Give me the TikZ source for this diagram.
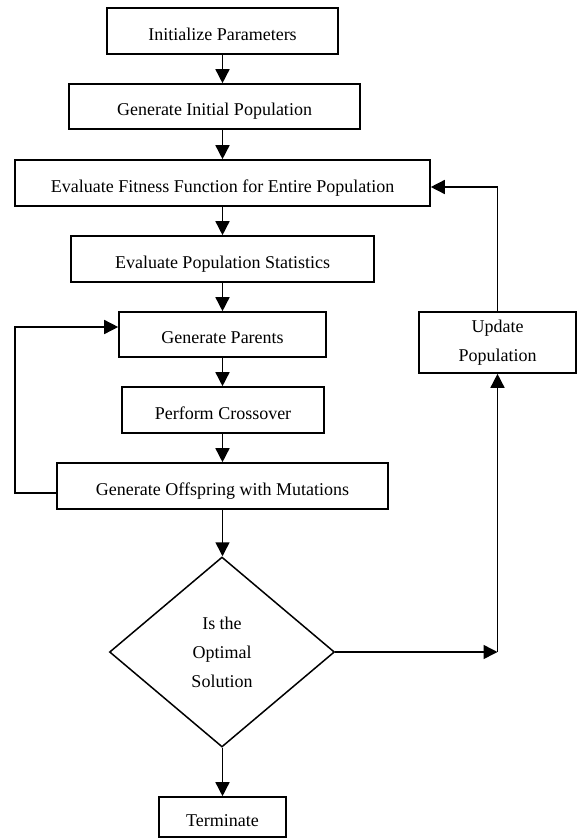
\documentclass[tikz,border=0pt]{standalone}
\usepackage{fontspec}
\setmainfont{Liberation Serif}
\usetikzlibrary{arrows.meta, shapes.geometric}

\tikzset{
  stepbox/.style={draw, line width=1.6pt, text height=22pt, text depth=4pt},
  flow/.style={-{Triangle[length=14pt,width=14pt]}, line width=1.5pt}
}

\begin{document}
\begin{tikzpicture}[x=1pt, y=-1pt, font=\fontsize{18}{29}\selectfont]

\useasboundingbox (0,0) rectangle (578,838);

%% main column of steps
\node[stepbox, minimum width=231pt, minimum height=46pt] (init) at (222.5,31) {Initialize Parameters};
\node[stepbox, minimum width=291pt, minimum height=45pt] (genpop) at (214.5,106.5) {Generate Initial Population};
\node[stepbox, minimum width=415pt, minimum height=46pt] (fitness) at (222.5,183) {Evaluate Fitness Function for Entire Population};
\node[stepbox, minimum width=303pt, minimum height=46pt] (stats) at (222.5,259) {Evaluate Population Statistics};
\node[stepbox, minimum width=207pt, minimum height=45pt] (parents) at (222.5,334.5) {Generate Parents};
\node[stepbox, minimum width=202pt, minimum height=46pt] (crossover) at (223,410) {Perform Crossover};
\node[stepbox, minimum width=331pt, minimum height=46pt] (offspring) at (222.5,486) {Generate Offspring with Mutations};

%% decision and end
\node[draw, diamond, line width=1.5pt, minimum width=225pt, minimum height=190pt, align=center] (decide) at (222,652)
  {\raisebox{-4pt}{\parbox{80pt}{\centering Is the\\ Optimal\\ Solution}}};
\node[stepbox, minimum width=127pt, minimum height=40pt] (stop) at (222.5,817) {Terminate};

%% side branch
\node[draw, line width=1.6pt, minimum width=157pt, minimum height=61pt, align=center] (update) at (497.5,342.5)
  {\raisebox{-4pt}{\parbox{120pt}{\centering Update\\ Population}}};
\coordinate (corner) at (update.south |- decide.east);

%% arrows down the column
\foreach \a/\b in {init/genpop, genpop/fitness, fitness/stats, stats/parents, parents/crossover, crossover/offspring, offspring/decide, decide/stop}
  {
    \draw[flow] (\a.south -| init.south) -- (\b.north -| init.south);
  }

%% loop back to parents
\draw[flow] ([yshift=-7pt]offspring.west) -- ++(-41,0) |- ([yshift=7.5pt]parents.west);

%% not optimal: update and evaluate again
\draw[flow] (decide.east) -- (corner);
\draw[flow] (corner) -- (update.south);
\draw[flow] (update.north) |- ([yshift=-4pt]fitness.east);

\end{tikzpicture}
\end{document}
